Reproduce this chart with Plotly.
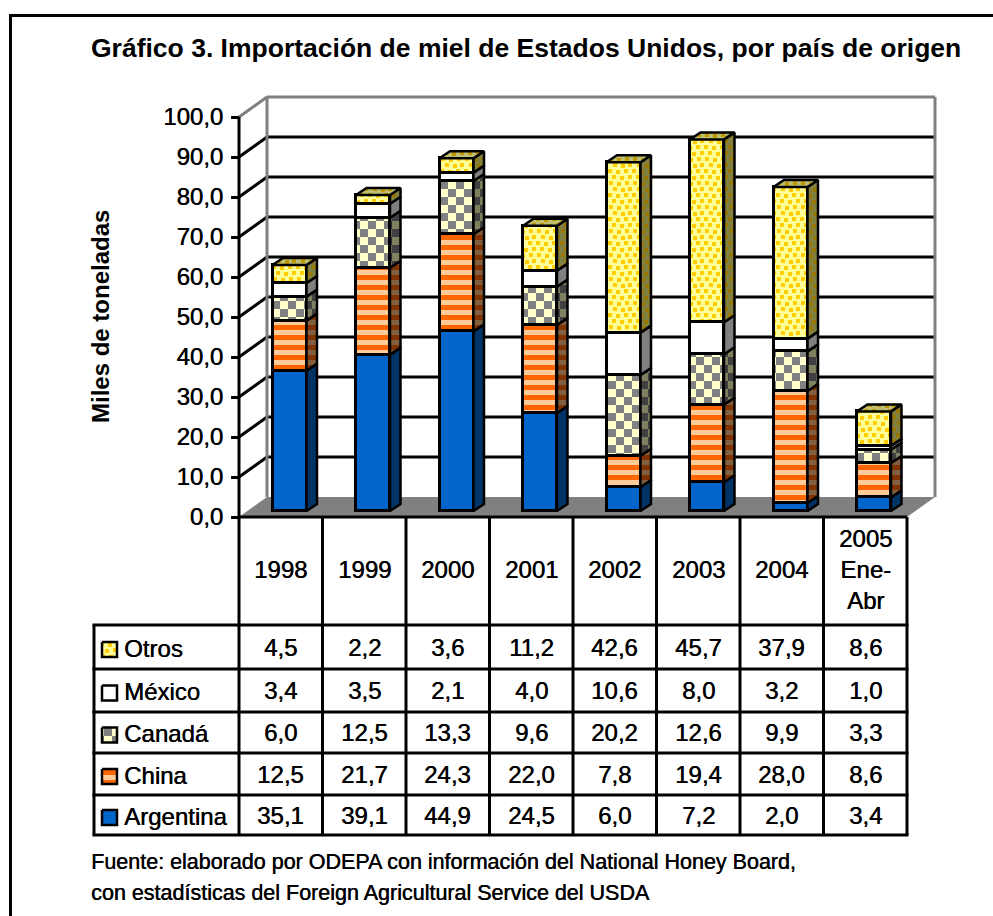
import plotly.graph_objects as go
import numpy as np

# ---- data ----
years = ["1998", "1999", "2000", "2001", "2002", "2003", "2004", "2005<br>Ene-<br>Abr"]
series_names = ["Argentina", "China", "Canadá", "México", "Otros"]
argentina = [35.1, 39.1, 44.9, 24.5, 6.0, 7.2, 2.0, 3.4]
china = [12.5, 21.7, 24.3, 22.0, 7.8, 19.4, 28.0, 8.6]
canada = [6.0, 12.5, 13.3, 9.6, 20.2, 12.6, 9.9, 3.3]
mexico = [3.4, 3.5, 2.1, 4.0, 10.6, 8.0, 3.2, 1.0]
otros = [4.5, 2.2, 3.6, 11.2, 42.6, 45.7, 37.9, 8.6]
y_ticks = [0, 10, 20, 30, 40, 50, 60, 70, 80, 90, 100]
title_text = "Gráfico 3. Importación de miel de Estados Unidos, por país de origen"
y_title = "Miles de toneladas"
source_lines = ["Fuente: elaborado por ODEPA con información del National Honey Board,",
                "con estadísticas del Foreign Agricultural Service del USDA"]

W, H = 993, 916
FONT = "Liberation Sans"
HEAVY = "0.45px 0 0 black"
values = [argentina, china, canada, mexico, otros]


def comma(v):
    return f"{v:.1f}".replace(".", ",")


# pattern tiles
STRIPE = "M0,0H10V5H0Z"
CHECK = "M0,0H8V8H0Z M8,8H16V16H8Z"
DOTS = ("M1,0h4v4h-4Z M9,1h4v4h-4Z M17,0h4v4h-4Z "
        "M5,6h4v4h-4Z M13,7h4v4h-4Z M20,6h4v4h-4Z "
        "M0,12h4v4h-4Z M8,13h4v4h-4Z M16,12h4v4h-4Z "
        "M4,18h4v4h-4Z M12,19h4v4h-4Z M20,18h4v4h-4Z")


def pat(path, size, fg, bg):
    return dict(path=path, size=size, fgcolor=fg, bgcolor=bg, fillmode="replace", solidity=0.5)


front = [
    dict(color="#0066CC", pattern=None),
    dict(color="#FFCC99", pattern=pat(STRIPE, 10, "#FF6600", "#FFCC99")),
    dict(color="#FFFFCC", pattern=pat(CHECK, 16, "#808080", "#FFFFCC")),
    dict(color="#FFFFFF", pattern=None),
    dict(color="#FFFF99", pattern=pat(DOTS, 24, "#FFCC00", "#FFFF99")),
]
side = [
    dict(color="#003366", pattern=None),
    dict(color="#806040", pattern=pat(STRIPE, 10, "#803300", "#806040")),
    dict(color="#808060", pattern=pat(CHECK, 16, "#404040", "#808060")),
    dict(color="#808080", pattern=None),
    dict(color="#808040", pattern=pat(DOTS, 24, "#997700", "#808040")),
]
top_face = dict(color="#BFBF73", pattern=pat(DOTS, 24, "#BF9900", "#BFBF73"))

# ---- geometry ----
X0, Y0 = 239, 517       # pixel of the front axis origin
CAT_PX, UNIT_PX = 83.5, 4.0
LEFT, RIGHT, BOTTOM, TOP = 200, 960, 530, 85
BACK_DX, BACK_DY = 28 / CAT_PX, 20 / UNIT_PX
BAR_W = 34 / CAT_PX
BAR_DX, BAR_DY = 10.5 / CAT_PX, 7 / UNIT_PX
BAR_SHIFT = 8.75 / CAT_PX
BAR_BASE = 6 / UNIT_PX
N = len(years)
centers = np.arange(N) + 0.5 + BAR_SHIFT

cum = np.cumsum(np.array(values), axis=0)
bases = np.vstack([np.zeros(N), cum[:-1]]) + BAR_BASE

fig = go.Figure()

for k, name in enumerate(series_names):
    m = dict(color=front[k]["color"], line=dict(color="black", width=3))
    if front[k]["pattern"]:
        m["pattern"] = front[k]["pattern"]
    fig.add_trace(go.Bar(x=centers, y=values[k], base=bases[k], width=BAR_W, name=name,
                         marker=m, showlegend=False, hoverinfo="skip"))


def poly_trace(xs, ys, style):
    kw = dict(fillcolor=style["color"])
    if style["pattern"]:
        kw["fillpattern"] = style["pattern"]
    return go.Scatter(x=xs, y=ys, mode="lines", fill="toself",
                      line=dict(color="black", width=2.5), showlegend=False,
                      hoverinfo="skip", **kw)


for k in range(len(series_names)):
    xs, ys = [], []
    for i in range(N):
        r = centers[i] + BAR_W / 2
        b, t = bases[k][i], bases[k][i] + values[k][i]
        xs += [r, r + BAR_DX, r + BAR_DX, r, r, None]
        ys += [b, b + BAR_DY, t + BAR_DY, t, b, None]
    fig.add_trace(poly_trace(xs, ys, side[k]))

xs, ys = [], []
for i in range(N):
    l, r = centers[i] - BAR_W / 2, centers[i] + BAR_W / 2
    t = bases[-1][i] + values[-1][i]
    xs += [l, l + BAR_DX, r + BAR_DX, r, l, None]
    ys += [t, t + BAR_DY, t + BAR_DY, t, t, None]
fig.add_trace(poly_trace(xs, ys, top_face))

shapes = []
xmax = N
# floor
shapes.append(dict(type="path", xref="x", yref="y", layer="below", line=dict(width=0),
                   fillcolor="#808080",
                   path=f"M0,0 L{BACK_DX},{BACK_DY} L{xmax + BACK_DX},{BACK_DY} L{xmax},0 Z"))
# back wall frame + grid
for v in y_ticks[1:]:
    col = "#808080" if v == 100 else "black"
    shapes.append(dict(type="line", xref="x", yref="y", layer="below", line=dict(color=col, width=3),
                       x0=0, y0=v, x1=BACK_DX, y1=v + BACK_DY))
    shapes.append(dict(type="line", xref="x", yref="y", layer="below", line=dict(color=col, width=3),
                       x0=BACK_DX, y0=v + BACK_DY, x1=xmax + BACK_DX, y1=v + BACK_DY))
for xv in (BACK_DX, xmax + BACK_DX):
    shapes.append(dict(type="line", xref="x", yref="y", layer="below", line=dict(color="#808080", width=3),
                       x0=xv, y0=BACK_DY, x1=xv, y1=100 + BACK_DY))
# front axis
shapes.append(dict(type="line", xref="x", yref="y", layer="below", line=dict(color="black", width=3),
                   x0=0, y0=0, x1=0, y1=100))
shapes.append(dict(type="line", xref="x", yref="y", layer="below", line=dict(color="black", width=3),
                   x0=0, y0=0, x1=xmax, y1=0))

# ---- data table, in page pixels (x2/y2 axes) ----
row_y = [625, 669, 712, 753, 795, 835]
col_x = [X0 + CAT_PX * i for i in range(N + 1)]
TL = 94


def page_line(x0, y0, x1, y1, w=3, c="black"):
    shapes.append(dict(type="line", xref="x2", yref="y2", line=dict(color=c, width=w),
                       x0=x0, y0=y0, x1=x1, y1=y1))


for cx in col_x:
    page_line(cx, Y0, cx, row_y[-1])
page_line(TL, row_y[0], TL, row_y[-1])
for ry in row_y:
    page_line(TL - 1.5, ry, col_x[-1] + 1.5, ry)
page_line(10.5, 15.5, W, 15.5, w=3)
page_line(10.5, 14, 10.5, H, w=3)

ann = []
TXT = dict(family=FONT, size=24, color="black", shadow=HEAVY)


def page_text(x, y, text, anchor="center", font=TXT):
    ann.append(dict(xref="x2", yref="y2", x=x, y=y, text=text, showarrow=False,
                    xanchor=anchor, yanchor="middle", font=font, align="center"))


for i, lab in enumerate(years):
    page_text((col_x[i] + col_x[i + 1]) / 2, 569, lab)

order = [4, 3, 2, 1, 0]
for r, k in enumerate(order):
    cy = (row_y[r] + row_y[r + 1]) / 2
    page_text(122, cy + 1, series_names[k], anchor="left")
    for i in range(N):
        page_text((col_x[i] + col_x[i + 1]) / 2, cy, comma(values[k][i]))
    style = front[k]
    kw = dict(fillcolor=style["color"])
    if style["pattern"]:
        kw["fillpattern"] = style["pattern"]
    fig.add_trace(go.Scatter(x=[102, 117, 117, 102, 102], y=[cy - 5, cy - 5, cy + 10, cy + 10, cy - 5],
                             xaxis="x2", yaxis="y2", mode="lines", fill="toself",
                             line=dict(color="black", width=2.5), showlegend=False,
                             hoverinfo="skip", **kw))

SRC = dict(family=FONT, size=21.5, color="black", shadow=HEAVY)
page_text(89, 862, source_lines[0], anchor="left", font=SRC)
page_text(89, 893, source_lines[1], anchor="left", font=SRC)
page_text(100, 317, f"<b>{y_title}</b>", font=dict(family=FONT, size=24, color="black"))
ann[-1]["textangle"] = -90

fig.update_layout(
    width=W, height=H, autosize=False,
    margin=dict(l=0, r=0, t=0, b=0),
    paper_bgcolor="white", plot_bgcolor="rgba(0,0,0,0)",
    bargap=0, barmode="overlay",
    title=dict(text=f"<b>{title_text}</b>", x=91 / W, xanchor="left", xref="paper",
               y=1 - 48 / H, yanchor="middle", yref="paper",
               font=dict(family=FONT, size=26.5, color="black")),
    shapes=shapes, annotations=ann,
    xaxis=dict(domain=[LEFT / W, RIGHT / W], range=[(LEFT - X0) / CAT_PX, (RIGHT - X0) / CAT_PX],
               visible=False, fixedrange=True),
    yaxis=dict(domain=[1 - BOTTOM / H, 1 - TOP / H], range=[(Y0 - BOTTOM) / UNIT_PX, (Y0 - TOP) / UNIT_PX],
               anchor="free", position=X0 / W, side="left", showgrid=False, zeroline=False,
               showline=False, ticks="outside", ticklen=8, tickwidth=3, tickcolor="black",
               tickvals=y_ticks, ticktext=[comma(v) for v in y_ticks], ticklabelstandoff=3,
               tickfont=dict(family=FONT, size=24, color="black", shadow=HEAVY), fixedrange=True),
    xaxis2=dict(domain=[0, 1], range=[0, W], visible=False, anchor="y2", fixedrange=True),
    yaxis2=dict(domain=[0, 1], range=[H, 0], visible=False, anchor="x2", fixedrange=True),
)

fig.write_html("out.html", config=dict(displayModeBar=False),
               post_script="document.body.style.margin='0';document.body.style.overflow='hidden';")
